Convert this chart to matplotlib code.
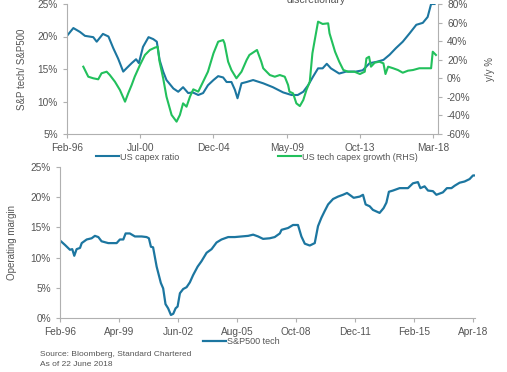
import matplotlib
matplotlib.use("Agg")
import matplotlib.pyplot as plt

plt.rcParams["font.family"] = ["Liberation Sans", "DejaVu Sans"]

# month offsets from Feb-96
capex_m = [0, 4.6, 9.4, 13, 19, 21.5, 26, 30, 33.5, 37, 40.7, 43, 46.8, 50, 52, 55, 59, 62.4, 65,
           67, 69.6, 72, 77, 80.5, 84, 87.7, 91, 95, 98.5, 102, 106, 109.4, 113, 115.5, 119,
           121.5, 123.4, 126.3, 130, 134.7, 142, 149, 156.4, 162.5, 167, 171, 174.5, 178,
           181.7, 185, 188, 191, 197, 202, 209, 214, 219, 224, 229, 233.5, 238, 243, 248,
           252.8, 257.5, 261, 263.5, 266]
capex_ratio = [20.1, 21.3, 20.7, 20.1, 19.9, 19.2, 20.4, 20.0, 18.2, 16.6, 14.6, 15.1, 15.9, 16.5,
               15.9, 18.4, 19.9, 19.6, 19.2, 16.4, 14.6, 13.3, 12.0, 11.5, 12.2, 11.3, 11.4,
               11.0, 11.3, 12.5, 13.3, 13.9, 13.7, 13.0, 13.0, 11.8, 10.5, 12.8, 13.0, 13.3,
               12.8, 12.2, 11.4, 11.0, 11.0, 11.5, 12.5, 13.8, 15.1, 15.1, 15.8, 15.1, 14.3,
               14.6, 14.6, 14.8, 15.9, 16.1, 16.4, 17.2, 18.2, 19.2, 20.5, 21.8, 22.1, 23.0,
               25.0, 25.0]

growth_m = [11.8, 15.4, 19, 22.6, 25, 28.7, 31, 34.7, 38.3, 42, 44.3, 46.8, 49, 52.8, 56.4, 60,
            63.6, 65.6, 67, 69.6, 72, 75.7, 79.3, 81.7, 84, 86.5, 89, 91.4, 95, 98.5, 102, 106,
            109.4, 113, 114, 116.6, 119, 122.6, 126.3, 130, 132, 137.5, 140.6, 142, 146.8,
            150.4, 154, 157.6, 160, 161, 163.6, 166, 168.5, 171, 173.3, 175.7, 177.6, 179.3,
            181.7, 185, 189, 190, 194, 197, 200, 203.4, 208, 212, 215.5, 216.7, 218.6, 220,
            222.7, 226, 229, 230.5, 232.4, 236, 239.5, 243, 246.8, 250.4, 255, 260, 263.5,
            264.7, 267]
capex_growth = [12.5, 1.7, 0.0, -1.1, 5.4, 7.1, 3.5, -3.7, -12.6, -25.2, -16.2, -7.2, 1.7, 14.3,
                25.1, 30.5, 33.0, 34.0, 17.9, 0.0, -19.8, -39.5, -46.7, -39.5, -27.0, -30.6,
                -19.8, -11.9, -14.4, -3.7, 7.1, 26.9, 39.4, 41.2, 37.7, 17.9, 8.9, 0.0, 7.1,
                19.7, 25.1, 30.5, 17.9, 10.8, 3.5, 1.7, 3.5, 1.7, -7.2, -14.4, -16.2, -27.0,
                -29.9, -23.4, -12.6, -3.7, 26.9, 41.2, 61.0, 58.5, 59.2, 48.4, 28.6, 17.9, 8.9,
                7.1, 7.1, 4.6, 7.1, 21.5, 23.2, 12.5, 16.8, 17.9, 16.1, 4.6, 12.5, 10.8, 8.9,
                6.0, 8.2, 8.9, 10.8, 10.8, 10.8, 28.6, 25.1]

margin_m = [0.6, 3.2, 6.4, 7.9, 9.2, 10.7, 12.9, 14, 17.2, 20.4, 22.5, 24.7, 26.8, 31.1, 36.5,
            38.6, 40.8, 42.3, 45, 48.3, 52.6, 55.8, 57.3, 58.6, 60, 62.3, 65, 66.5, 68, 69.7,
            71.5, 73, 74.5, 75.8, 77.3, 79.4, 81.6, 83.7, 85.8, 88.7, 91.2, 94.5, 97.7, 100.9,
            104.1, 108.4, 112.7, 117, 121.3, 124.5, 127.7, 130.9, 135.2, 138.4, 141.7, 142.8,
            147, 150.2, 153.4, 155.6, 157.8, 161, 164.2, 166.3, 168.5, 170.6, 172.8, 176,
            179.2, 182.4, 185, 187.2, 189.3, 193.2, 195.3, 197, 199.6, 201.7, 206, 208.6,
            210.4, 212, 214.6, 218.9, 224.3, 227.5, 230.7, 232.3, 235, 237.2, 240.4, 242.6,
            246.8, 249.4, 252.3, 254.4, 257.6, 260.8, 264, 266.2, 267]
op_margin = [12.7, 12.1, 11.3, 11.4, 10.3, 11.4, 11.6, 12.4, 13.0, 13.2, 13.6, 13.4, 12.7, 12.4,
             12.4, 13.0, 13.0, 14.0, 14.0, 13.5, 13.5, 13.4, 13.2, 11.8, 11.7, 8.5, 5.8, 4.9,
             2.3, 1.6, 0.5, 0.7, 1.6, 1.9, 4.1, 4.8, 5.1, 5.9, 7.1, 8.5, 9.4, 10.8, 11.4, 12.5,
             13.0, 13.4, 13.4, 13.5, 13.6, 13.8, 13.5, 13.1, 13.2, 13.4, 14.0, 14.6, 14.9,
             15.4, 15.4, 13.5, 12.3, 12.0, 12.4, 15.2, 16.6, 17.7, 18.8, 19.7, 20.1, 20.4,
             20.7, 20.3, 19.9, 20.1, 20.4, 18.8, 18.5, 17.9, 17.4, 18.2, 19.1, 20.9, 21.1,
             21.5, 21.5, 22.3, 22.5, 21.5, 21.8, 21.1, 21.0, 20.4, 20.8, 21.5, 21.5, 21.9,
             22.4, 22.6, 23.0, 23.6, 23.6]

top_ticks = [0, 53, 106, 159, 212, 265]
top_labels = ["Feb-96", "Jul-00", "Dec-04", "May-09", "Oct-13", "Mar-18"]
bot_ticks = [0, 38, 76, 114, 152, 190, 228, 266]
bot_labels = ["Feb-96", "Apr-99", "Jun-02", "Aug-05", "Oct-08", "Dec-11", "Feb-15", "Apr-18"]

BLUE = "#1c76a0"
GREEN = "#22c05c"
GREY = "#b0b0b0"
TXT = "#555555"


def style(ax, spines):
    for s in ["top", "right", "left", "bottom"]:
        ax.spines[s].set_visible(s in spines)
        ax.spines[s].set_color(GREY)
        ax.spines[s].set_linewidth(0.8)
    ax.tick_params(colors=GREY, labelcolor=TXT, labelsize=7.3, length=3, width=0.8)


def put_legend(handle, x_px, y_px):
    # legend line starts at x_px, centred on y_px (figure pixels from top-left)
    leg = fig.legend(handles=[handle], loc="center left", frameon=False,
                     bbox_to_anchor=(x_px / 507, 1 - y_px / 372), fontsize=6.5,
                     handlelength=2.5, handletextpad=0.2, borderpad=0, borderaxespad=0,
                     labelcolor=TXT)
    return leg


fig = plt.figure(figsize=(5.07, 3.72), dpi=100)

# ---------------- top: capex ratio vs tech capex growth ----------------
ax = fig.add_axes([67 / 507, 1 - 134 / 372, 371 / 507, 130 / 372])
l1, = ax.plot(capex_m, capex_ratio, color=BLUE, lw=1.5, label="US capex ratio")
ax.set_xlim(0, 268.5)
ax.set_ylim(5, 25)
ax.set_yticks([5, 10, 15, 20, 25])
ax.set_yticklabels([f"{v}%" for v in [5, 10, 15, 20, 25]])
ax.set_xticks(top_ticks)
ax.set_xticklabels(top_labels)
style(ax, ["left", "bottom"])
ax.set_ylabel("S&P tech/ S&P500", fontsize=7, color=TXT, labelpad=8)

ax2 = ax.twinx()
l2, = ax2.plot(growth_m, capex_growth, color=GREEN, lw=1.5, label="US tech capex growth (RHS)")
ax2.set_ylim(-60, 80)
ax2.set_yticks(range(-60, 81, 20))
ax2.set_yticklabels([f"{v}%" for v in range(-60, 81, 20)])
style(ax2, ["right"])
ax2.set_ylabel("y/y %", fontsize=7, color=TXT, labelpad=10)

put_legend(l1, 96, 157)
put_legend(l2, 278, 157)

fig.text(316 / 507, 1.0, "discretionary", ha="center", va="center", fontsize=7.5, color=TXT)

# ---------------- bottom: S&P500 tech operating margin ----------------
bx = fig.add_axes([60 / 507, 1 - 318 / 372, 415 / 507, 151 / 372])
l3, = bx.plot(margin_m, op_margin, color=BLUE, lw=1.6, label="S&P500 tech")
bx.set_xlim(0, 267.5)
bx.set_ylim(0, 25)
bx.set_yticks([0, 5, 10, 15, 20, 25])
bx.set_yticklabels([f"{v}%" for v in [0, 5, 10, 15, 20, 25]])
bx.set_xticks(bot_ticks)
bx.set_xticklabels(bot_labels)
style(bx, ["left", "bottom"])
bx.set_ylabel("Operating margin", fontsize=7, color=TXT, labelpad=10)

put_legend(l3, 203, 342)

fig.text(40 / 507, 1 - 354 / 372, "Source: Bloomberg, Standard Chartered", fontsize=6,
         color=TXT, va="center")
fig.text(40 / 507, 1 - 365 / 372, "As of 22 June 2018", fontsize=6, color=TXT, va="center")

fig.savefig("out.png", dpi=100)
